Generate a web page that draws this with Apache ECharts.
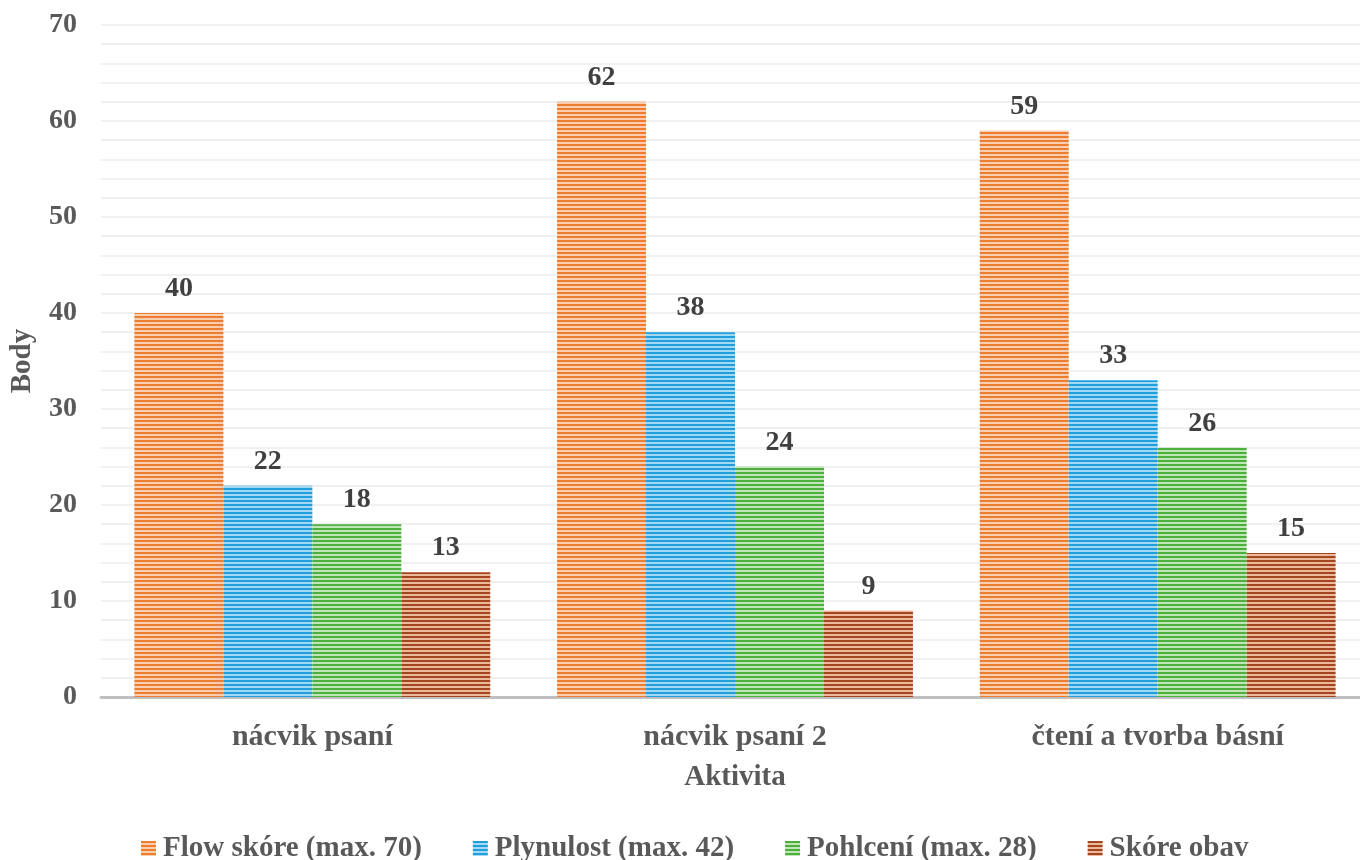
<!DOCTYPE html>
<html><head><meta charset="utf-8">
<script src="https://cdn.jsdelivr.net/npm/echarts@6/dist/echarts.min.js"></script>
<style>html,body{margin:0;padding:0;background:#fff}#c{width:1360px;height:860px}</style>
</head><body><div id="c"></div>
<script>
const categories = ['nácvik psaní', 'nácvik psaní 2', 'čtení a tvorba básní'];
const seriesNames = ['Flow skóre (max. 70)', 'Plynulost (max. 42)', 'Pohlcení (max. 28)', 'Skóre obav'];
const flowValues = [40, 62, 59];
const plynulostValues = [22, 38, 33];
const pohlceniValues = [18, 24, 26];
const obavyValues = [13, 9, 15];
const yTicks = [0, 10, 20, 30, 40, 50, 60, 70];

const baseColors = [['#ED7D31', '#F9CDB0'], ['#1F9FDC', '#A4D8F3'], ['#4DAF3E', '#C0E5B6'], ['#A2461F', '#EDB89C']];
function stripe(dark, light) {
  const c = document.createElement('canvas');
  c.width = 4; c.height = 4;
  const ctx = c.getContext('2d');
  ctx.fillStyle = dark; ctx.fillRect(0, 0, 4, 2);
  ctx.fillStyle = light; ctx.fillRect(0, 2, 4, 2);
  return { image: c, repeat: 'repeat' };
}
const FONT = '"Liberation Serif", "Times New Roman", serif';
const allValues = [flowValues, plynulostValues, pohlceniValues, obavyValues];
const chart = echarts.init(document.getElementById('c'));
chart.setOption({
  animation: false,
  grid: { left: 101, right: -9, top: 25, bottom: 163, containLabel: false, outerBoundsMode: 'none' },
  legend: {
    top: 829, left: 136, itemWidth: 15, itemHeight: 15, itemGap: 51, icon: 'rect',
    textStyle: { fontFamily: FONT, fontWeight: 'bold', fontSize: 29, color: '#595959', padding: [0, 0, 0, 2] },
    data: seriesNames
  },
  xAxis: {
    type: 'category', data: categories,
    name: 'Aktivita', nameLocation: 'middle', nameGap: 66,
    nameTextStyle: { fontFamily: FONT, fontWeight: 'bold', fontSize: 29, color: '#595959' },
    axisLine: { lineStyle: { color: '#BFBFBF', width: 3 } },
    axisTick: { show: false },
    axisLabel: { margin: 25, fontFamily: FONT, fontWeight: 'bold', fontSize: 30, color: '#595959' }
  },
  yAxis: {
    type: 'value', min: 0, max: 70, interval: 10,
    name: 'Body', nameLocation: 'middle', nameGap: 64,
    nameTextStyle: { fontFamily: FONT, fontWeight: 'bold', fontSize: 29, color: '#595959' },
    axisLine: { show: false }, axisTick: { show: false },
    axisLabel: { margin: 24, fontFamily: FONT, fontWeight: 'bold', fontSize: 28, color: '#595959',
      formatter: v => yTicks.includes(v) ? String(v) : '' },
    splitLine: { lineStyle: { color: '#EBEBEB', width: 1.5 } },
    minorTick: { show: false, splitNumber: 5 },
    minorSplitLine: { show: true, lineStyle: { color: '#EBEBEB', width: 1.5 } }
  },
  series: seriesNames.map((n, i) => ({
    name: n, type: 'bar', data: allValues[i],
    barGap: '0%', barCategoryGap: '15.8%',
    itemStyle: { color: stripe(baseColors[i][0], baseColors[i][1]) },
    label: { show: true, position: 'top', distance: 10, fontFamily: FONT, fontWeight: 'bold', fontSize: 28, color: '#404040' }
  }))
});
</script></body></html>
